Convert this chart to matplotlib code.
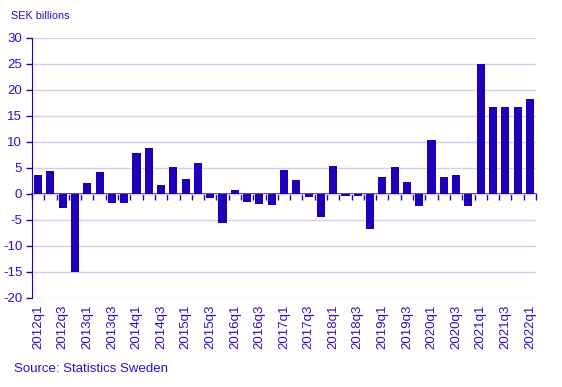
import numpy as np
import matplotlib.pyplot as plt

# net flows by quarter, SEK billions
quarters = [f"{y}q{q}" for y in range(2012, 2022) for q in range(1, 5)] + ["2022q1"]
values = [3.7, 4.5, -2.6, -15.0,
          2.2, 4.3, -1.8, -1.8,
          7.8, 8.9, 1.8, 5.1,
          2.9, 6.0, -0.7, -5.5,
          0.8, -1.6, -2.0, -2.2,
          4.7, 2.6, -0.5, -4.5,
          5.4, -0.3, -0.3, -6.7,
          3.3, 5.1, 2.4, -2.4,
          10.4, 3.3, 3.7, -2.4,
          25.0, 16.8, 16.8, 16.8,
          18.3]
yticks = list(range(-20, 31, 5))

bar_col = "#1f00b9"
txt_col = "#2a10c8"
grid_col = "#d4d0f0"

plt.rcParams["font.family"] = ["Liberation Sans", "DejaVu Sans"]

fig = plt.figure(figsize=(5.62, 3.87), dpi=100)
ax = fig.add_axes([32 / 562, 1 - 298 / 387, (536 - 32) / 562, 260 / 387])

x = np.arange(len(values))
ax.bar(x, values, width=0.66, color=bar_col, zorder=3)

ax.set_xlim(-0.5, len(values) - 0.5)
ax.set_ylim(-20, 30)
ax.set_yticks(yticks)
ax.set_yticklabels([str(t) for t in yticks], color=txt_col, fontsize=9.5)
ax.yaxis.grid(True, color=grid_col, linewidth=1)
ax.set_axisbelow(True)
ax.tick_params(axis="y", length=4, width=1, color=bar_col, pad=3)

for s in ["top", "right", "bottom"]:
    ax.spines[s].set_visible(False)
ax.spines["left"].set_color(bar_col)

# labels at the bottom, every second quarter
ax.set_xticks(x[::2])
ax.set_xticklabels(quarters[::2], rotation=90, color=txt_col, fontsize=9.5)
ax.tick_params(axis="x", length=0, pad=5)

# zero line with ticks between the bars
zero = ax.secondary_xaxis(20 / 50)
zero.set_xticks(np.arange(-0.5, len(values), 1))
zero.set_xticklabels([])
zero.tick_params(axis="x", length=4, width=1, color=bar_col, direction="out")
zero.spines["bottom"].set_color(bar_col)
zero.spines["bottom"].set_linewidth(1.2)
zero.spines["top"].set_visible(False)

fig.text(11 / 562, 1 - 16 / 387, "SEK billions", color=txt_col, fontsize=7.8, va="center")
fig.text(14 / 562, 1 - 369 / 387, "Source: Statistics Sweden", color=txt_col, fontsize=9.5, va="center")

fig.savefig("out.png", dpi=100)
